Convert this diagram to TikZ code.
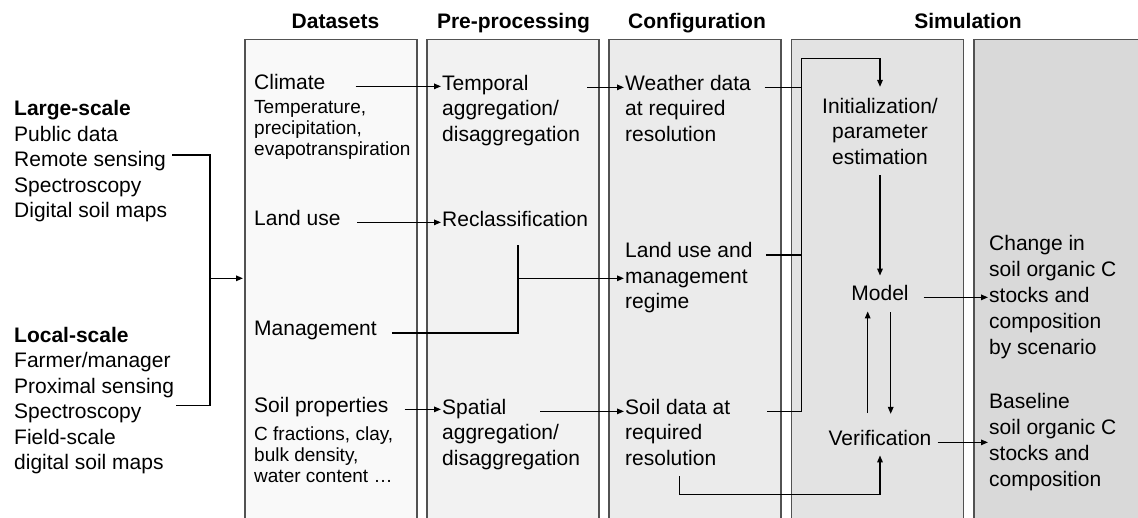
\documentclass[tikz,border=0pt]{standalone}
\usepackage{fontspec}
\setmainfont{Liberation Sans}
\usetikzlibrary{arrows.meta}

\begin{document}
\begin{tikzpicture}
  [x=1pt,y=-1pt,
   every node/.style={inner sep=0pt,anchor=base west,align=left,font=\fontsize{21}{25.5}\selectfont},
   panel/.style={draw=black!68,line width=1.8pt,anchor=north west,minimum width=172pt,minimum height=520pt},
   head/.style={anchor=base,font=\fontsize{21}{25.5}\selectfont\bfseries},
   small/.style={font=\fontsize{19}{21}\selectfont},
   outtxt/.style={font=\fontsize{21}{26}\selectfont},
   sim/.style={anchor=base,align=center},
   link/.style={line width=1.4pt},
   arr/.style={link,-{Triangle[length=7pt,width=5.5pt]},shorten >=1pt}]
  \useasboundingbox[fill=white] (0,0) rectangle (1138,517);
  \clip (0,0) rectangle (1138,517);

  \foreach \n/\g/\i in {pdata/2.5/0,pprep/5/1,pconf/8/2,psim/11/3,pout/15/4}
    \node[panel,fill=black!\g] (\n) at (244+182.2*\i,38.5) {};

  \node[head] (hdata) at (335.5,28.3) {Datasets};
  \node[head] (hprep) at (513.5,28.3) {Pre-processing};
  \node[head] (hconf) at (697,28.3) {Configuration};
  \node[head] (hsim) at (968,28.3) {Simulation};

  \node (large) at (14,217.5) {\textbf{Large-scale}\\Public data\\Remote sensing\\Spectroscopy\\Digital soil maps};
  \node (local) at (14,469.5) {\textbf{Local-scale}\\Farmer/manager\\Proximal sensing\\Spectroscopy\\Field-scale\\digital soil maps};

  \node (clim) at (254,89) {Climate};
  \node[small] (climx) at (254,155.3) {Temperature,\\precipitation,\\evapotranspiration};
  \node (land) at (254,225) {Land use};
  \node (mgmt) at (254,335.5) {Management};
  \node (soil) at (254,412) {Soil properties};
  \node[small] (soilx) at (254,482) {C fractions, clay,\\bulk density,\\water content …};

  \node (temp) at (442,141) {Temporal\\aggregation/\\disaggregation};
  \node (recl) at (442,226) {Reclassification};
  \node (spat) at (442,465) {Spatial\\aggregation/\\disaggregation};

  \node (wthr) at (625,141) {Weather data\\at required\\resolution};
  \node (luse) at (625,308.5) {Land use and\\management\\regime};
  \node (sdat) at (625,465) {Soil data at\\required\\resolution};

  \node[sim] (init) at (880,164.3) {Initialization/\\parameter\\estimation};
  \node[sim] (model) at (880,300) {Model};
  \node[sim] (verif) at (880,445) {Verification};

  \node[outtxt] (chg) at (989,354) {Change in\\soil organic C\\stocks and\\composition\\by scenario};
  \node[outtxt] (bsl) at (989,486.3) {Baseline\\soil organic C\\stocks and\\composition};

  \coordinate (lgend) at (172,155);
  \coordinate (lcend) at (176,405.7);
  \coordinate (brk) at (210,278.3);
  \draw[link] (lgend) -| (brk) |- (lcend);
  \draw[arr] (brk) -- (brk -| pdata.west);

  \foreach \a/\b/\s/\u in {clim/temp/30/0,land/recl/16.6/0,soil/spat/16/0,temp/wthr/7/51,spat/sdat/-39.7/51}
    \draw[arr] ([xshift=\s,yshift=\u]\a.mid east) -- ([yshift=\u]\a.mid east -| \b.west);

  \coordinate (jr) at (518,245);
  \coordinate (jm) at (518,278.3);
  \draw[link] ([xshift=15]mgmt.mid east) -| (jr);
  \draw[arr] (jm) -- (jm -| luse.west);

  \coordinate (bus) at (801.7,58.7);
  \draw[arr] ([xshift=36.7,yshift=51]sdat.mid east) -| (bus) -| ([yshift=10]init.north);
  \draw[link] ([xshift=13.5,yshift=51]wthr.mid east) -- ([yshift=51]wthr.mid east -| bus);
  \draw[link] ([xshift=13.3,yshift=51]luse.mid east) -- ([yshift=51]luse.mid east -| bus);

  \draw[arr] ([yshift=-10.7]init.south) -- ([yshift=8]model.north);
  \draw[arr] ([xshift=-12.3,yshift=16.4]verif.north) -- ([xshift=-12.3,yshift=-10]model.south);
  \draw[arr] ([xshift=10.7,yshift=-11.7]model.south) -- ([xshift=10.7,yshift=14.7]verif.north);
  \draw[arr] ([xshift=14.7]model.mid east) -- (model.mid east -| chg.west);
  \draw[arr] ([xshift=6]verif.mid east) -- (verif.mid east -| bsl.west);
  \draw[arr] ([xshift=2,yshift=-11]sdat.south) -- ++(0,18.3) -| ([yshift=-9]verif.south);
\end{tikzpicture}
\end{document}
